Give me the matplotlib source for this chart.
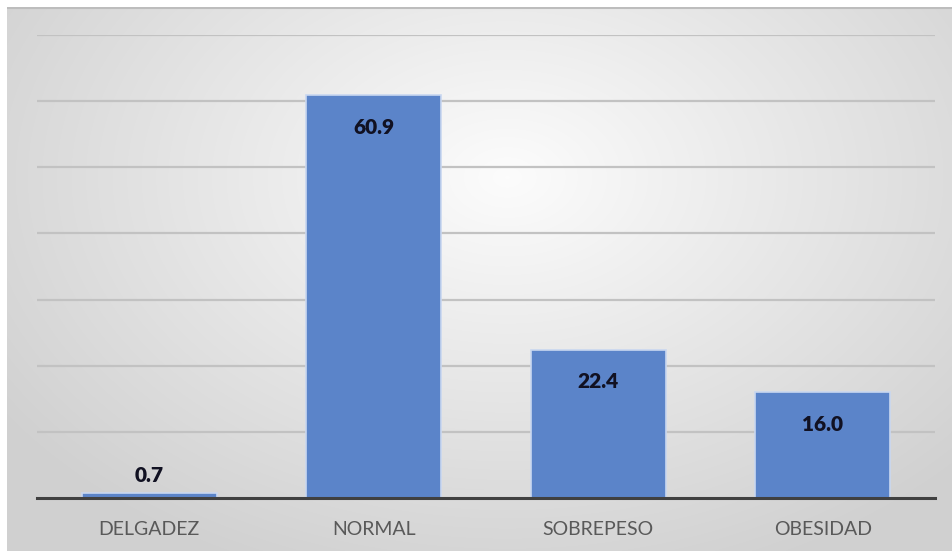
import numpy as np
import matplotlib.pyplot as plt
from matplotlib.colors import LinearSegmentedColormap

categorias = ["DELGADEZ", "NORMAL", "SOBREPESO", "OBESIDAD"]
porcentajes = [0.7, 60.9, 22.4, 16.0]
etiquetas = ["0.7", "60.9", "22.4", "16.0"]

plt.rcParams["font.family"] = ["Lato", "DejaVu Sans"]

fig = plt.figure(figsize=(9.52, 5.51), dpi=100)
fig.patch.set_facecolor("white")

# fondo con degradado radial (estilo Excel)
bg = fig.add_axes([7/952, 0, 1 - 7/952, 1 - 7/551])
yy, xx = np.mgrid[0:544, 0:945]
r = np.sqrt(((xx - 500) / 620.0) ** 2 + ((yy - 170) / 430.0) ** 2)
r = np.clip(r, 0, 1)
cmap = LinearSegmentedColormap.from_list("bg", ["#fcfcfc", "#e6e6e6", "#d0d0d0"])
bg.imshow(r, cmap=cmap, aspect="auto", vmin=0, vmax=1)
bg.axis("off")
bg.plot([0, 944], [0.5, 0.5], color="#bdbdbd", lw=1.5)

ax = fig.add_axes([37/952, 1 - 498/551, (935 - 37)/952, (498 - 35)/551])
ax.patch.set_alpha(0)
x = np.arange(len(categorias))
bars = ax.bar(x, porcentajes, width=0.6, color="#5b84c9", edgecolor="#c9d7f0",
              linewidth=1.2, zorder=3)
ax.set_xlim(-0.5, len(categorias) - 0.5)
ax.set_ylim(0, 70)
ax.set_yticks(np.arange(10, 71, 10))
ax.yaxis.grid(True, color="#c2c2c2", linewidth=1.6, zorder=0)
ax.tick_params(axis="y", left=False, labelleft=False)
ax.tick_params(axis="x", bottom=False, labelsize=14, labelcolor="#595959", pad=13)
ax.set_xticks(x)
ax.set_xticklabels(categorias)
for s in ["top", "right", "left"]:
    ax.spines[s].set_visible(False)
ax.spines["bottom"].set_color("#404040")
ax.spines["bottom"].set_linewidth(2.2)
ax.spines["bottom"].set_zorder(4)

for b, v, t in zip(bars, porcentajes, etiquetas):
    cx = b.get_x() + b.get_width() / 2
    if v < 5:
        ax.annotate(t, (cx, v), xytext=(0, 6), textcoords="offset points",
                    ha="center", va="bottom", fontsize=15, fontweight="heavy",
                    color="#111122", zorder=5)
    else:
        ax.annotate(t, (cx, v), xytext=(0, -23), textcoords="offset points",
                    ha="center", va="center", fontsize=15, fontweight="heavy",
                    color="#111122", zorder=5)

fig.savefig("out.png", dpi=100)
